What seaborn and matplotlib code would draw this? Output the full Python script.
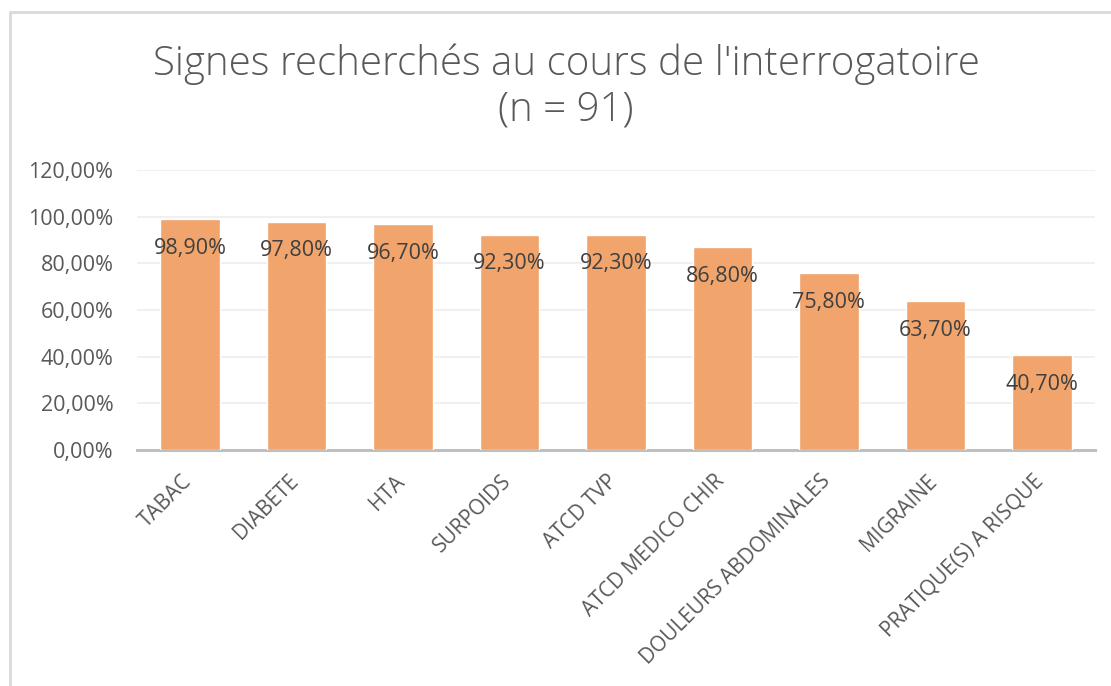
import matplotlib
matplotlib.use("Agg")
import matplotlib.pyplot as plt
import matplotlib.patches as mpatches
import matplotlib.transforms as mtrans
from matplotlib.ticker import FuncFormatter, MultipleLocator
import seaborn as sns
import pandas as pd

categories = ["TABAC", "DIABETE", "HTA", "SURPOIDS", "ATCD TVP",
              "ATCD MEDICO CHIR", "DOULEURS ABDOMINALES", "MIGRAINE",
              "PRATIQUE(S) A RISQUE"]
values = [98.9, 97.8, 96.7, 92.3, 92.3, 86.8, 75.8, 63.7, 40.7]
title_lines = ["Signes recherchés au cours de l'interrogatoire", "(n = 91)"]

sns.set_theme(style="white")
plt.rcParams["font.family"] = ["Open Sans", "DejaVu Sans"]

df = pd.DataFrame({"cat": categories, "val": values})

fig = plt.figure(figsize=(11.11, 6.86), dpi=100)
ax = fig.add_axes([137/1111, 1-450/686, (1095-137)/1111, 280/686])

sns.barplot(data=df, x="cat", y="val", color="#F1A46C", saturation=1,
            width=0.56, ax=ax, zorder=3)

ax.set_ylim(0, 120)
ax.set_xlim(-0.5, len(categories)-0.5)
ax.yaxis.set_major_locator(MultipleLocator(20))
ax.yaxis.set_major_formatter(FuncFormatter(lambda v, p: f"{v:.2f}".replace(".", ",") + "%"))
ax.grid(axis="y", color="#EDEDED", linewidth=1.2, zorder=0)
ax.set_axisbelow(True)
for s in ["top", "right", "left"]:
    ax.spines[s].set_visible(False)
ax.spines["bottom"].set_color("#BFBFBF")
ax.spines["bottom"].set_linewidth(2.2)
ax.set_xlabel("")
ax.set_ylabel("")
ax.tick_params(axis="y", length=0, pad=17, labelsize=15.5, labelcolor="#595959")
ax.tick_params(axis="x", length=0, pad=15, labelsize=15, labelcolor="#595959")
shift = mtrans.ScaledTranslation(-9/100, 0, fig.dpi_scale_trans)
for lab in ax.get_xticklabels():
    lab.set_rotation(45)
    lab.set_ha("right")
    lab.set_va("top")
    lab.set_rotation_mode("anchor")
    lab.set_transform(lab.get_transform() + shift)

for i, v in enumerate(values):
    ax.annotate(f"{v:.2f}".replace(".", ",") + "%", (i, v), xytext=(0, -21),
                textcoords="offset points", ha="center", va="center",
                fontsize=15.5, color="#404040", zorder=5)

fig.text(566/1111, 1-64/686, title_lines[0], ha="center", va="center",
         fontsize=29, color="#595959", fontweight="light")
fig.text(566/1111, 1-110/686, title_lines[1], ha="center", va="center",
         fontsize=29, color="#595959", fontweight="light")

frame = mpatches.Rectangle((9.5/1111, -0.1), 1.2, 1-12/686+0.1,
                           transform=fig.transFigure, fill=False,
                           edgecolor="#D9D9D9", linewidth=2, clip_on=False)
fig.patches.append(frame)

fig.savefig("out.png", dpi=100, facecolor="white")
